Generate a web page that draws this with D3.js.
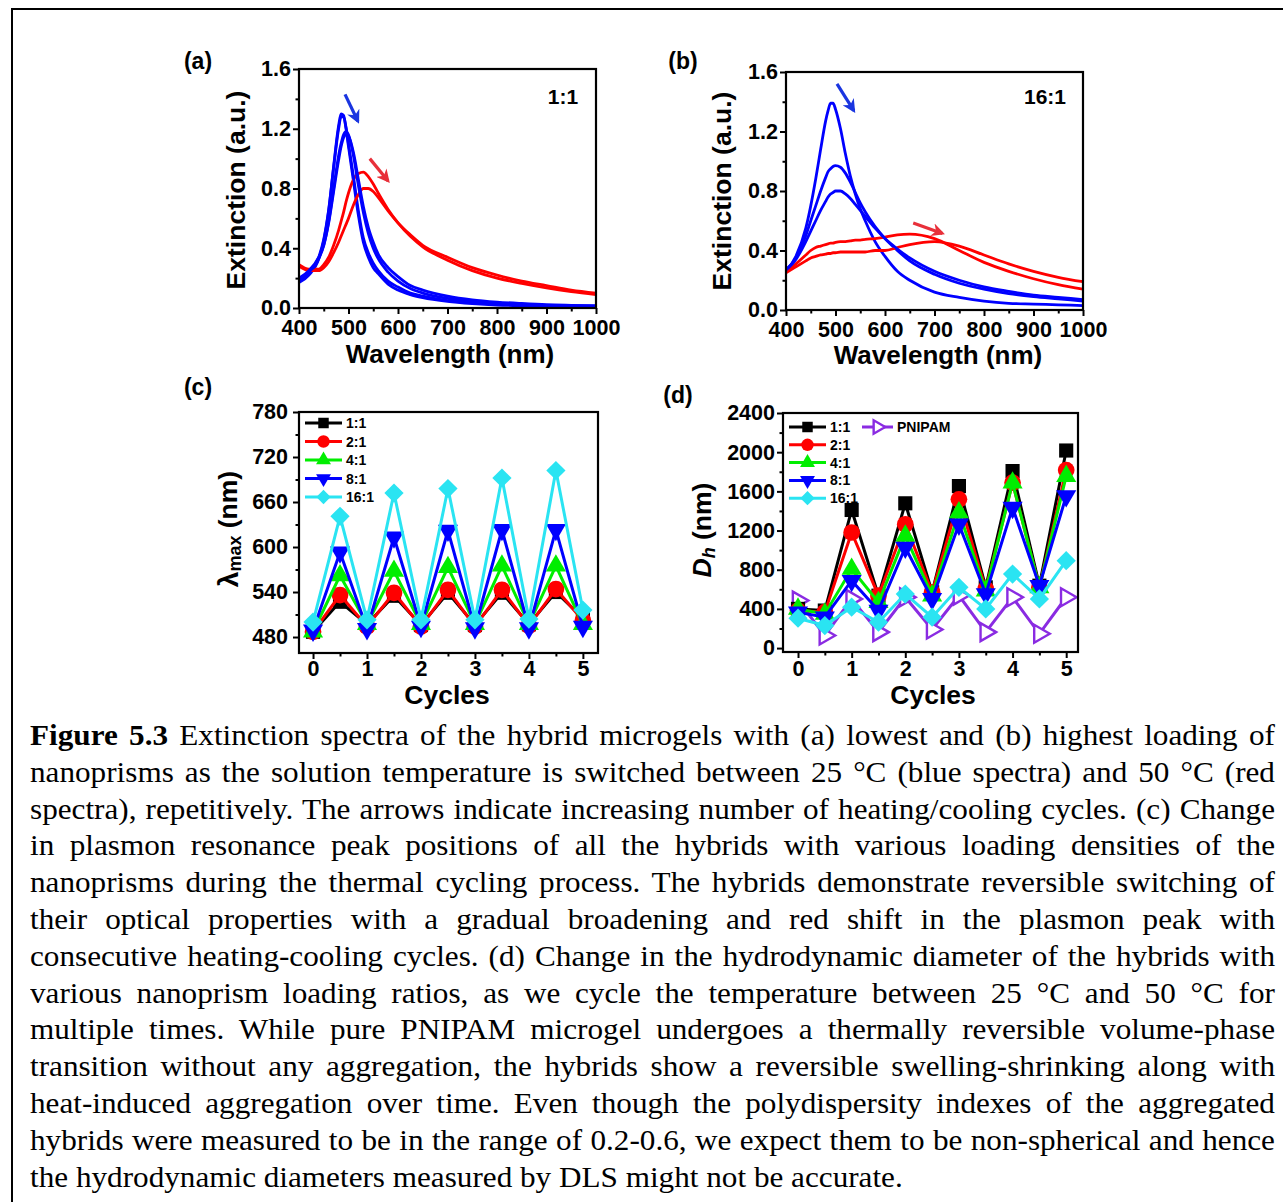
<!DOCTYPE html>
<html lang="en">
<head>
<meta charset="UTF-8" />
<title>Figure 5.3</title>
<style>
  body { margin: 0; background: #fff; }
  #fig { position: relative; width: 1283px; height: 1202px; overflow: hidden; background: #fff; }
  #fig svg { position: absolute; left: 0; top: 0; }
  .tick text { font-family: "Liberation Sans", Arial, sans-serif; font-weight: bold; font-size: 21.5px; fill: #000; }
  .tick line { stroke: #000; stroke-width: 2; }
  .lbl { font-family: "Liberation Sans", Arial, sans-serif; font-weight: bold; fill: #000; }
  #caption { position: absolute; left: 30px; top: 718px; width: 1138px;
    transform: scaleX(1.094); transform-origin: 0 0;
    font-family: "Liberation Serif", "Times New Roman", serif; font-size: 28.5px; line-height: 36.8px; color: #000; }
  #caption div { text-align: justify; text-align-last: justify; white-space: nowrap; }
  #caption div.last { text-align-last: left; }
</style>
</head>
<body>
<div id="fig"></div>
<script src="https://cdn.jsdelivr.net/npm/d3@7"></script>
<script>
// ---- data ----
const wl = [400, 420, 440, 450, 460, 470, 480, 485, 490, 495, 500, 510, 520, 530, 540, 550, 560, 580, 600, 625, 650, 700, 750, 800, 850, 900, 950, 1000];

// (a) 1:1
const aBlue1 = [0.17, 0.22, 0.33, 0.45, 0.65, 0.95, 1.22, 1.30, 1.29, 1.20, 1.08, 0.85, 0.62, 0.44, 0.34, 0.27, 0.23, 0.16, 0.12, 0.09, 0.07, 0.045, 0.03, 0.02, 0.015, 0.012, 0.01, 0.01];
const aBlue2 = [0.18, 0.23, 0.34, 0.46, 0.66, 0.94, 1.20, 1.28, 1.28, 1.21, 1.10, 0.88, 0.65, 0.47, 0.37, 0.30, 0.25, 0.18, 0.14, 0.10, 0.08, 0.05, 0.035, 0.025, 0.02, 0.015, 0.012, 0.01];
const aBlue3 = [0.19, 0.24, 0.33, 0.42, 0.58, 0.80, 1.02, 1.10, 1.16, 1.18, 1.16, 1.02, 0.82, 0.64, 0.50, 0.40, 0.33, 0.24, 0.18, 0.13, 0.10, 0.065, 0.045, 0.032, 0.024, 0.018, 0.014, 0.012];
const aBlue4 = [0.20, 0.25, 0.34, 0.42, 0.57, 0.78, 0.99, 1.08, 1.14, 1.16, 1.15, 1.04, 0.86, 0.68, 0.54, 0.44, 0.36, 0.27, 0.21, 0.15, 0.12, 0.08, 0.055, 0.04, 0.03, 0.022, 0.018, 0.015];
const aRed1 = [0.29, 0.26, 0.26, 0.29, 0.34, 0.42, 0.52, 0.58, 0.64, 0.71, 0.77, 0.86, 0.90, 0.91, 0.88, 0.83, 0.77, 0.66, 0.57, 0.48, 0.41, 0.32, 0.25, 0.20, 0.165, 0.135, 0.11, 0.09];
const aRed2 = [0.28, 0.25, 0.25, 0.27, 0.31, 0.37, 0.44, 0.48, 0.52, 0.56, 0.60, 0.69, 0.76, 0.80, 0.80, 0.78, 0.74, 0.65, 0.57, 0.49, 0.42, 0.34, 0.27, 0.22, 0.18, 0.15, 0.12, 0.10];

// (b) 16:1
const bBlue1 = [0.26, 0.36, 0.55, 0.70, 0.88, 1.08, 1.27, 1.34, 1.39, 1.39, 1.35, 1.22, 1.05, 0.90, 0.78, 0.68, 0.60, 0.46, 0.36, 0.26, 0.20, 0.12, 0.085, 0.06, 0.045, 0.04, 0.035, 0.03];
const bBlue2 = [0.27, 0.35, 0.50, 0.60, 0.70, 0.80, 0.89, 0.93, 0.95, 0.965, 0.97, 0.96, 0.92, 0.86, 0.79, 0.72, 0.66, 0.56, 0.48, 0.40, 0.33, 0.24, 0.18, 0.14, 0.11, 0.09, 0.075, 0.06];
const bBlue3 = [0.27, 0.34, 0.46, 0.53, 0.60, 0.67, 0.73, 0.76, 0.78, 0.79, 0.80, 0.80, 0.78, 0.75, 0.71, 0.67, 0.63, 0.55, 0.48, 0.41, 0.35, 0.26, 0.20, 0.155, 0.125, 0.10, 0.085, 0.07];
const bRed1 = [0.26, 0.31, 0.37, 0.40, 0.42, 0.43, 0.44, 0.445, 0.45, 0.45, 0.455, 0.46, 0.46, 0.465, 0.47, 0.47, 0.475, 0.48, 0.49, 0.505, 0.51, 0.48, 0.40, 0.32, 0.26, 0.21, 0.17, 0.14];
const bRed2 = [0.25, 0.29, 0.33, 0.35, 0.36, 0.37, 0.375, 0.38, 0.38, 0.385, 0.385, 0.39, 0.39, 0.39, 0.39, 0.39, 0.39, 0.40, 0.40, 0.42, 0.44, 0.46, 0.43, 0.37, 0.31, 0.26, 0.22, 0.19];

// (c) and (d)
const cycles = [0, 0.5, 1, 1.5, 2, 2.5, 3, 3.5, 4, 4.5, 5];
const lam11 = [487, 527, 497, 535, 496, 539, 496, 539, 497, 540, 505];
const lam21 = [487, 536, 494, 539, 494, 543, 494, 543, 495, 544, 502];
const lam41 = [487, 562, 497, 568, 497, 573, 497, 575, 497, 575, 497];
const lam81 = [489, 593, 491, 613, 494, 622, 492, 623, 492, 623, 494];
const lam161 = [500, 641, 503, 672, 503, 678, 503, 692, 504, 702, 516];

const dh11 = [400, 383, 1410, 535, 1478, 570, 1654, 620, 1807, 637, 2017];
const dh21 = [383, 366, 1180, 535, 1264, 570, 1519, 603, 1688, 620, 1817];
const dh41 = [400, 349, 807, 468, 1146, 536, 1383, 586, 1688, 620, 1756];
const dh81 = [366, 315, 688, 383, 1027, 502, 1264, 552, 1434, 637, 1553];
const dh161 = [305, 230, 417, 264, 552, 315, 620, 400, 756, 502, 892];
const dhPnipam = [485, 129, 502, 163, 519, 190, 536, 163, 519, 146, 519];

// ticks
const wlTicks = [400, 500, 600, 700, 800, 900, 1000];
const wlMinor = [450, 550, 650, 750, 850, 950];
const extTicks = [0, 0.4, 0.8, 1.2, 1.6];
const extMinor = [0.2, 0.6, 1.0, 1.4];
const cycTicks = [0, 1, 2, 3, 4, 5];
const cycMinor = [0.5, 1.5, 2.5, 3.5, 4.5];
const lamTicks = [480, 540, 600, 660, 720, 780];
const lamMinor = [510, 570, 630, 690, 750];
const dhTicks = [0, 400, 800, 1200, 1600, 2000, 2400];
const dhMinor = [200, 600, 1000, 1400, 1800, 2200];

const seriesNames = ["1:1", "2:1", "4:1", "8:1", "16:1"];
// ---------------------------------

const W = 1283, H = 1202;
const fig = d3.select("#fig");
const svg = fig.append("svg").attr("width", W).attr("height", H);

const BLUE = "#0000ff", RED = "#ff0000";
const colors = ["#000000", "#ff0000", "#00ee00", "#0000ff", "#2ae4f2"];
const PURPLE = "#8a2be2";

// outer border (left and top visible)
svg.append("path").attr("d", `M12,${H} V9 H${W}`).attr("fill", "none").attr("stroke", "#000").attr("stroke-width", 2);

// arrow heads
const defs = svg.append("defs");
[["arrBlue", "#1a35e0"], ["arrRed", "#e8303a"]].forEach(([id, c]) => {
  defs.append("marker").attr("id", id).attr("viewBox", "0 0 10 10")
    .attr("refX", 8).attr("refY", 5).attr("markerWidth", 4.2).attr("markerHeight", 4.2)
    .attr("orient", "auto").attr("markerUnits", "strokeWidth")
    .append("path").attr("d", "M0,0 L10,5 L0,10 L3,5 Z").attr("fill", c);
});

function axes(p) {
  const g = svg.append("g");
  const x = d3.scaleLinear().domain(p.xDomain).range([p.left, p.right]);
  const y = d3.scaleLinear().domain(p.yDomain).range([p.bottom, p.top]);
  const clean = s => s.select(".domain").remove();
  g.append("g").attr("transform", `translate(0,${p.bottom})`)
    .call(d3.axisBottom(x).tickValues(p.xMinor).tickSize(3.5).tickFormat("")).call(clean);
  g.append("g").attr("transform", `translate(${p.left},0)`)
    .call(d3.axisLeft(y).tickValues(p.yMinor).tickSize(3.5).tickFormat("")).call(clean);
  g.append("g").attr("transform", `translate(0,${p.bottom})`)
    .call(d3.axisBottom(x).tickValues(p.xTicks).tickSize(6).tickPadding(p.xPad).tickFormat(p.xFmt)).call(clean);
  g.append("g").attr("transform", `translate(${p.left},0)`)
    .call(d3.axisLeft(y).tickValues(p.yTicks).tickSize(6).tickPadding(p.yPad).tickFormat(p.yFmt)).call(clean);
  g.selectAll(".tick text").attr("fill", "#000");
  g.selectAll(".tick line").attr("stroke", "#000").attr("stroke-width", 2);
  const frame = svg.append("rect").attr("x", p.left).attr("y", p.top)
    .attr("width", p.right - p.left).attr("height", p.bottom - p.top)
    .attr("fill", "none").attr("stroke", "#000").attr("stroke-width", 2.2);
  return { x, y, g, frame };
}

function label(txt, x, y, size, opts = {}) {
  const t = svg.append("text").attr("class", "lbl").attr("x", x).attr("y", y)
    .attr("font-size", size).attr("text-anchor", opts.anchor || "middle")
    .attr("dominant-baseline", "central").text(txt);
  if (opts.rotate) t.attr("transform", `rotate(-90,${x},${y})`);
  return t;
}

// ---------- spectra panels ----------
function spectra(p, curves, arrows) {
  const a = axes(p);
  const line = d3.line().x((d, i) => a.x(wl[i])).y(d => a.y(d)).curve(d3.curveMonotoneX);
  const cg = svg.insert("g", "rect");
  curves.forEach(c => {
    cg.append("path").attr("d", line(c.v)).attr("fill", "none")
      .attr("stroke", c.c).attr("stroke-width", 2.8);
  });
  arrows.forEach(ar => {
    svg.append("line")
      .attr("x1", a.x(ar.from[0])).attr("y1", a.y(ar.from[1]))
      .attr("x2", a.x(ar.to[0])).attr("y2", a.y(ar.to[1]))
      .attr("stroke", ar.c).attr("stroke-width", 3.2)
      .attr("marker-end", `url(#${ar.id})`);
  });
  return a;
}

const f1 = d3.format(".1f");
const pa = {
  left: 299, right: 596, top: 69, bottom: 308,
  xDomain: [400, 1000], yDomain: [0, 1.6],
  xTicks: wlTicks, xMinor: wlMinor, yTicks: extTicks, yMinor: extMinor,
  xPad: 6, yPad: 2, xFmt: d3.format("d"), yFmt: f1
};
spectra(pa, [
  { v: aBlue1, c: BLUE }, { v: aRed1, c: RED }, { v: aBlue2, c: BLUE },
  { v: aRed2, c: RED }, { v: aBlue3, c: BLUE }, { v: aBlue4, c: BLUE }
], [
  { from: [493, 1.43], to: [519, 1.25], c: "#1a35e0", id: "arrBlue" },
  { from: [543, 1.00], to: [580, 0.85], c: "#e8303a", id: "arrRed" }
]);
label("(a)", 198, 61, 23);
label("1:1", 563, 96, 21);
label("Extinction (a.u.)", 236, 190, 26.5, { rotate: true });
label("Wavelength (nm)", 450, 354, 26);

const pb = Object.assign({}, pa, { left: 786, right: 1083, top: 72, bottom: 310 });
spectra(pb, [
  { v: bBlue1, c: BLUE }, { v: bRed1, c: RED }, { v: bBlue2, c: BLUE },
  { v: bRed2, c: RED }, { v: bBlue3, c: BLUE }
], [
  { from: [503, 1.52], to: [537, 1.34], c: "#1a35e0", id: "arrBlue" },
  { from: [657, 0.585], to: [716, 0.515], c: "#e8303a", id: "arrRed" }
]);
label("(b)", 683, 61, 23);
label("16:1", 1045, 96, 21);
label("Extinction (a.u.)", 722, 191, 26.5, { rotate: true });
label("Wavelength (nm)", 938, 355, 26);

// ---------- cycling panels ----------
const shapes = {
  square: { type: d3.symbolSquare, size: 200, rot: 0 },
  circle: { type: d3.symbolCircle, size: 220, rot: 0 },
  triUp: { type: d3.symbolTriangle, size: 175, rot: 0 },
  triDown: { type: d3.symbolTriangle, size: 175, rot: 180 },
  diamond: { type: { draw(ctx, size) { const r = Math.sqrt(size / 2); ctx.moveTo(0, -r); ctx.lineTo(r, 0); ctx.lineTo(0, r); ctx.lineTo(-r, 0); ctx.closePath(); } }, size: 185, rot: 0 },
  triRight: { type: d3.symbolTriangle, size: 140, rot: 90 }
};
const shapeOrder = ["square", "circle", "triUp", "triDown", "diamond"];

function marker(g, shape, cx, cy, color, scale, open) {
  const s = shapes[shape];
  g.append("path").attr("d", d3.symbol().type(s.type).size(s.size * scale)())
    .attr("transform", `translate(${cx},${cy}) rotate(${s.rot})`)
    .attr("fill", open ? "#fff" : color)
    .attr("stroke", open ? color : "none").attr("stroke-width", 2.4);
}

function cyclePanel(p, series) {
  const a = axes(p);
  const line = d3.line().x((d, i) => a.x(cycles[i])).y(d => a.y(d));
  const cg = svg.insert("g", "rect");
  series.forEach(s => {
    cg.append("path").attr("d", line(s.v)).attr("fill", "none")
      .attr("stroke", s.c).attr("stroke-width", 3);
    s.v.forEach((d, i) => marker(cg, s.shape, a.x(cycles[i]), a.y(d), s.c, 1, s.open));
  });
  return a;
}

function legendRow(g, x0, x1, y, shape, color, name, open) {
  const lg = svg.append("g");
  lg.append("line").attr("x1", x0).attr("x2", x1).attr("y1", y).attr("y2", y)
    .attr("stroke", color).attr("stroke-width", 3);
  marker(lg, shape, (x0 + x1) / 2, y, color, 0.55, open);
  label(name, x1 + 4, y, 14, { anchor: "start" });
}

const pc = {
  left: 299, right: 598, top: 412, bottom: 653,
  xDomain: [-0.26, 5.28], yDomain: [458.7, 780],
  xTicks: cycTicks, xMinor: cycMinor, yTicks: lamTicks, yMinor: lamMinor,
  xPad: 2, yPad: 5, xFmt: d3.format("d"), yFmt: d3.format("d")
};
const lamSeries = [lam11, lam21, lam41, lam81, lam161];
cyclePanel(pc, lamSeries.map((v, i) => ({ v, c: colors[i], shape: shapeOrder[i] })));
seriesNames.forEach((n, i) => legendRow(svg, 305, 342, 423 + i * 18.5, shapeOrder[i], colors[i], n));
label("(c)", 198, 387, 23);
const tc = svg.append("text").attr("class", "lbl").attr("text-anchor", "middle")
  .attr("dominant-baseline", "central").attr("transform", "translate(228,529) rotate(-90)");
tc.append("tspan").attr("font-size", 28).text("λ");
tc.append("tspan").attr("font-size", 18).attr("dy", 7).text("max");
tc.append("tspan").attr("font-size", 26.5).attr("dy", -7).text(" (nm)");
label("Cycles", 447, 695, 26.5);

const pd = {
  left: 783, right: 1078, top: 413, bottom: 652,
  xDomain: [-0.28, 5.22], yDomain: [-40, 2400],
  xTicks: cycTicks, xMinor: cycMinor, yTicks: dhTicks, yMinor: dhMinor,
  xPad: 3, yPad: 2, xFmt: d3.format("d"), yFmt: d3.format("d")
};
const dhSeries = [dh11, dh21, dh41, dh81, dh161];
cyclePanel(pd, [{ v: dhPnipam, c: PURPLE, shape: "triRight", open: true }]
  .concat(dhSeries.map((v, i) => ({ v, c: colors[i], shape: shapeOrder[i] }))));
seriesNames.forEach((n, i) => legendRow(svg, 789, 826, 427 + i * 17.8, shapeOrder[i], colors[i], n));
legendRow(svg, 862, 893, 427, "triRight", PURPLE, "PNIPAM", true);
label("(d)", 678, 395, 23);
const td = svg.append("text").attr("class", "lbl").attr("text-anchor", "middle")
  .attr("dominant-baseline", "central").attr("transform", "translate(702,530) rotate(-90)");
td.append("tspan").attr("font-size", 26.5).attr("font-style", "italic").text("D");
td.append("tspan").attr("font-size", 18).attr("font-style", "italic").attr("dy", 7).text("h");
td.append("tspan").attr("font-size", 26.5).attr("dy", -7).text(" (nm)");
label("Cycles", 933, 695, 26.5);

// ---------- caption ----------
const captionLines = [
  "<b>Figure 5.3</b> Extinction spectra of the hybrid microgels with (a) lowest and (b) highest loading of",
  "nanoprisms as the solution temperature is switched between 25 °C (blue spectra) and 50 °C (red",
  "spectra), repetitively. The arrows indicate increasing number of heating/cooling cycles. (c) Change",
  "in plasmon resonance peak positions of all the hybrids with various loading densities of the",
  "nanoprisms during the thermal cycling process. The hybrids demonstrate reversible switching of",
  "their optical properties with a gradual broadening and red shift in the plasmon peak with",
  "consecutive heating-cooling cycles. (d) Change in the hydrodynamic diameter of the hybrids with",
  "various nanoprism loading ratios, as we cycle the temperature between 25 °C and 50 °C for",
  "multiple times. While pure PNIPAM microgel undergoes a thermally reversible volume-phase",
  "transition without any aggregation, the hybrids show a reversible swelling-shrinking along with",
  "heat-induced aggregation over time. Even though the polydispersity indexes of the aggregated",
  "hybrids were measured to be in the range of 0.2-0.6, we expect them to be non-spherical and hence",
  "the hydrodynamic diameters measured by DLS might not be accurate."
];
fig.append("div").attr("id", "caption").selectAll("div").data(captionLines).join("div")
  .attr("class", (d, i) => i === captionLines.length - 1 ? "last" : null)
  .html(d => d);
</script>
</body>
</html>
